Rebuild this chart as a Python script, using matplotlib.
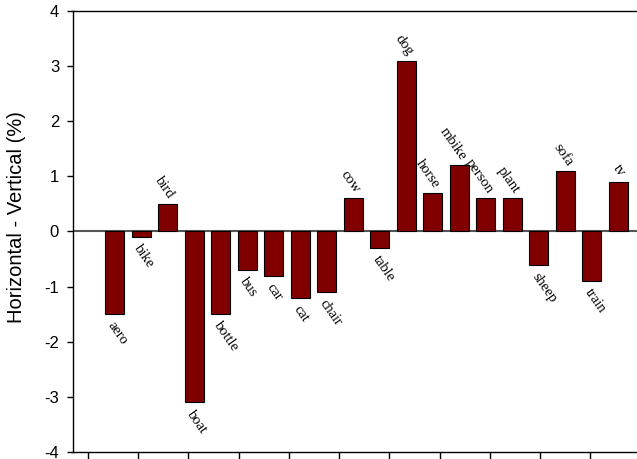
import numpy as np
import matplotlib.pyplot as plt

# classes and their horizontal - vertical difference (%)
classes = ['aero', 'bike', 'bird', 'boat', 'bottle', 'bus', 'car', 'cat', 'chair', 'cow',
           'table', 'dog', 'horse', 'mbike', 'person', 'plant', 'sheep', 'sofa', 'train', 'tv']
diff = [-1.5, -0.1, 0.5, -3.1, -1.5, -0.7, -0.8, -1.2, -1.1, 0.6,
        -0.3, 3.1, 0.7, 1.2, 0.6, 0.6, -0.6, 1.1, -0.9, 0.9]
yticks = [-4, -3, -2, -1, 0, 1, 2, 3, 4]

fig = plt.figure(figsize=(6.37, 4.59), dpi=100)
ax = fig.add_axes([0.1146, 0.0153, 0.8954, 0.9607])

x = np.arange(len(classes))
ax.bar(x, diff, width=0.72, color='#800000', edgecolor='black', linewidth=0.8, zorder=3)
ax.axhline(0, color='#555555', linewidth=1.5, zorder=2)

for xi, v, name in zip(x, diff, classes):
    if v >= 0:
        ax.text(xi + 0.36, v + 0.05, name, rotation=-55, ha='right', va='bottom',
                family='Liberation Serif', fontsize=10.5)
    else:
        ax.text(xi - 0.36, v - 0.1, name, rotation=-55, ha='left', va='top',
                family='Liberation Serif', fontsize=10.5)

ax.set_xlim(-1.566, 19.94)
ax.set_ylim(-4, 4)
ax.set_yticks(yticks)
ax.set_yticklabels([str(t) for t in yticks], family='Liberation Sans', fontsize=12)
ax.set_xticks(-1.0 + 1.894 * np.arange(11))
ax.set_xticklabels([])
ax.tick_params(axis='x', direction='out', length=7, width=1)
ax.tick_params(axis='y', direction='out', length=4, width=1, pad=6)
ax.spines['right'].set_visible(False)
for s in ['left', 'top', 'bottom']:
    ax.spines[s].set_linewidth(1)

ax.set_ylabel('Horizontal - Vertical (%)', family='Liberation Sans', fontsize=14.5)
ax.yaxis.set_label_coords(-0.0825, 0.532)

fig.savefig('out.png', dpi=100)
